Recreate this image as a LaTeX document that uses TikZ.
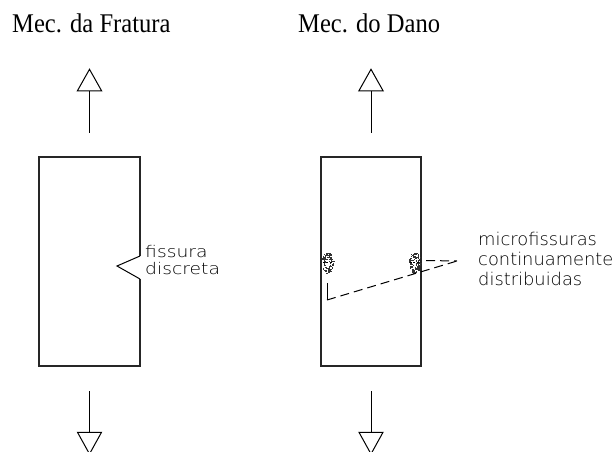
\documentclass[tikz,border=0pt]{standalone}
\usepackage{fontspec}
\setmainfont{Liberation Serif}
\newfontfamily\cadfont{DejaVu Sans ExtraLight}
\tikzset{
  outline/.style={line width=1.2pt, draw=black!85},
  headtri/.style={line width=1pt, draw=black},
  shaft/.style={line width=1pt, draw=black},
  leader/.style={line width=1pt, dash pattern=on 9pt off 5pt},
  title/.style={font=\fontsize{27}{30}\selectfont, anchor=base west, inner sep=0pt, xscale=0.91},
  cadlabel/.style={font=\cadfont\fontsize{16}{17}\selectfont, anchor=base west, inner sep=0pt, xscale=1.17},
  cadlabelr/.style={font=\cadfont\fontsize{17.5}{20}\selectfont, anchor=base west, inner sep=0pt, xscale=1.02},
  speck/.style={fill=black!80}
}
\begin{document}
\begin{tikzpicture}[x=1pt,y=-1pt]
\useasboundingbox (0,0) rectangle (616,452);

% titles
\node[title] (t1) at (12,33) {Mec. da Fratura};
\node[title] (t2) at (298,33) {Mec. do Dano};

% ---- left specimen: discrete crack ----
\coordinate (L1) at (39,157);
\coordinate (L2) at (140,157);
\coordinate (N1) at (140,256);
\coordinate (Ntip) at (117,266);
\coordinate (N2) at (140,279);
\coordinate (L3) at (140,366);
\coordinate (L4) at (39,366);
\draw[outline] (N1) -- (L2) -- (L1) -- (L4) -- (L3) -- (N2);
\draw[line width=1pt] (N1) -- (Ntip) -- (N2);
\node[cadlabel] (f1) at (145,257) {fissura};
\node[cadlabel] (f2) at (145,274) {discreta};

% load arrows, left
\coordinate (ua) at (89.5,91);
\coordinate (ub) at (89.5,132.7);
\draw[shaft] (ua) -- (ub);
\draw[headtri] (77.3,91) -- (101.7,91) -- (89.5,69.3) -- cycle;
\coordinate (da) at (89.5,391);
\coordinate (db) at (89.5,432.3);
\draw[shaft] (da) -- (db);
\draw[headtri] (77.5,432.3) -- (101.5,432.3) -- (89.5,454) -- cycle;

% ---- right specimen: distributed microcracks ----
\node[outline, minimum width=100pt, minimum height=209pt, inner sep=0pt] (R) at (371,261.5) {};

% load arrows, right
\coordinate (rua) at (371,91);
\coordinate (rub) at (371,132.7);
\draw[shaft] (rua) -- (rub);
\draw[headtri] (358.8,91) -- (383.2,91) -- (371,69.3) -- cycle;
\coordinate (rda) at (371,391);
\coordinate (rdb) at (371,432.3);
\draw[shaft] (rda) -- (rdb);
\draw[headtri] (359,432.3) -- (383,432.3) -- (371,454) -- cycle;

% stippled damage zones
\pgfmathsetseed{11}
\foreach \cx in {327.5,414.5}{
  \foreach \i in {1,...,110}{
    \pgfmathsetmacro\ang{rnd*360}
    \pgfmathsetmacro\rad{0.25+0.75*sqrt(rnd)}
    \fill[speck] ({\cx+6*\rad*cos(\ang)},{262.5+10.5*\rad*sin(\ang)}) rectangle +(1.2,1.2);
  }
  \draw[line width=0.8pt, dash pattern=on 2pt off 1.5pt] (\cx-5,262.5) -- (\cx+5,262.5);
}
\coordinate (bz1) at (327,283);
\coordinate (bz1k) at (327,300);
\coordinate (bz2) at (426,260.5);
\coordinate (meet) at (457,261);

% leader lines
\draw[line width=1pt] (bz1) -- (bz1k);
\draw[leader] (bz1k) -- (meet);
\draw[leader] (bz2) -- (meet);

\node[cadlabelr] (m1) at (478,245) {microfissuras};
\node[cadlabelr] (m2) at (478,265) {continuamente};
\node[cadlabelr] (m3) at (478,285) {distribuidas};
\end{tikzpicture}
\end{document}
